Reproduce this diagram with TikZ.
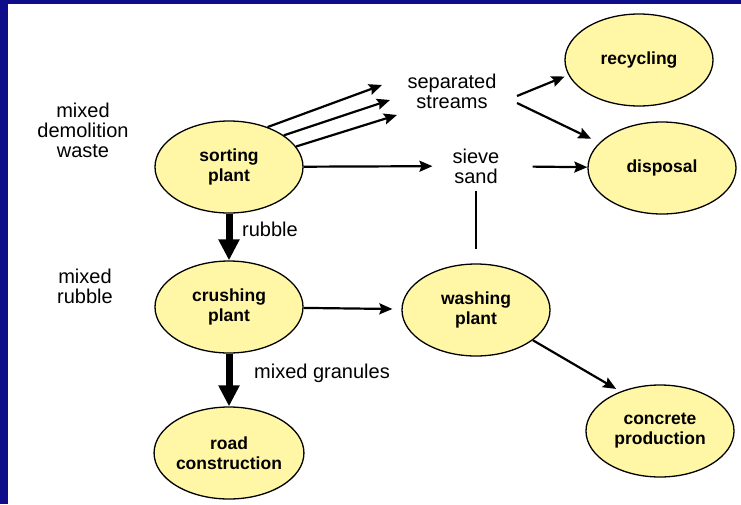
\documentclass[tikz,border=0pt]{standalone}
\usepackage{fontspec}
\setmainfont{Liberation Sans}
\usepackage{xcolor}
\usetikzlibrary{positioning, arrows.meta, shapes.geometric}
\definecolor{marco}{RGB}{14,14,138}
\definecolor{amarillo}{RGB}{255,247,166}

\begin{document}
\begin{tikzpicture}[x=1pt, y=-1pt,
  planta/.style={ellipse, draw=black, line width=1.3pt, fill=amarillo,
                 minimum width=148pt, minimum height=92pt, inner sep=0pt,
                 align=center, font=\fontsize{17.5}{20}\selectfont\bfseries},
  et/.style={align=center, inner sep=0pt, font=\fontsize{20}{20}\selectfont},
  fl/.style={-{Stealth[length=13pt, width=11pt, inset=2pt]}, line width=2.2pt},
  gr/.style={-{Triangle[length=21pt, width=20pt]}, line width=7pt}]
\useasboundingbox (0,0) rectangle (741,504);
\fill[marco] (0,0) rectangle (741,4);
\fill[marco] (0,0) rectangle (8,504);
\node[planta] (recy) at (639,60) {recycling};
\node[planta] (disp) at (662,168) {disposal};
\node[planta] (sort) at (229,167) {sorting\\plant};
\node[planta] (crush) at (229,307) {crushing\\plant};
\node[planta] (wash) at (476,310) {washing\\plant};
\node[planta] (road) at (229,453) {road\\construction};
\node[planta] (conc) at (660,431) {concrete\\production};
\node[et] (waste) at (83,130) {mixed\\demolition\\waste};
\node[et] (mrub) at (85,286) {mixed\\rubble};
\node[et] (streams) at (452,91) {separated\\streams};
\node[et] (sieve) at (476,166) {sieve\\sand};
\node[et] (rub) at (270,229) {rubble};
\node[et] (gran) at (322,373) {mixed granules};
\coordinate (s1) at (382,85);
\coordinate (s2) at (390,100);
\coordinate (s3) at (397,115);
\coordinate (sp1) at (517,96);
\coordinate (sp2) at (517,103);
\draw[fl] (sort.46) -- (s1);
\draw[fl] (sort.30) -- (s2);
\draw[fl] (sort.17) -- (s3);
\draw[fl, shorten >=4pt] (sp1) -- (recy.192);
\draw[fl, shorten >=9pt] (sp2) -- (disp.158);
\draw[fl, shorten >=20pt] (sort) -- (sieve);
\draw[fl, shorten <=33pt] (sieve) -- (disp);
\draw[line width=2.2pt, shorten <=7pt, shorten >=14pt] (sieve) -- (wash);
\draw[gr] (sort) -- (crush);
\draw[gr] (crush) -- (road);
\draw[fl, shorten >=9pt] (crush) -- (wash);
\draw[fl, shorten >=5pt] (wash.-28) -- (conc.135);
\end{tikzpicture}
\end{document}
